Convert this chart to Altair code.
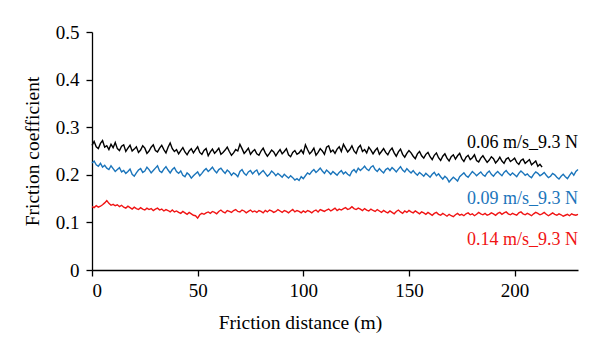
import altair as alt
import pandas as pd

# Friction distance (m) — one reading per metre
black_vals = [
0.262,0.270,0.259,0.255,0.266,0.272,0.258,0.261,0.253,0.264,0.257,0.268,0.255,0.251,0.260,0.263,0.249,0.256,0.262,0.250,
0.254,0.259,0.247,0.252,0.261,0.256,0.245,0.250,0.258,0.263,0.251,0.248,0.256,0.262,0.253,0.246,0.258,0.267,0.255,0.249,
0.253,0.244,0.251,0.257,0.248,0.242,0.250,0.255,0.246,0.253,0.259,0.247,0.243,0.251,0.255,0.240,0.248,0.254,0.245,0.250,
0.256,0.243,0.247,0.252,0.258,0.249,0.241,0.246,0.253,0.250,0.264,0.255,0.245,0.250,0.256,0.243,0.249,0.253,0.244,0.241,
0.250,0.256,0.246,0.239,0.245,0.252,0.248,0.240,0.247,0.253,0.244,0.249,0.255,0.242,0.238,0.247,0.251,0.243,0.246,0.252,
0.245,0.263,0.253,0.244,0.249,0.256,0.241,0.247,0.255,0.250,0.243,0.258,0.261,0.248,0.252,0.245,0.254,0.259,0.249,0.264,
0.256,0.248,0.253,0.261,0.250,0.245,0.257,0.262,0.249,0.253,0.246,0.258,0.252,0.244,0.251,0.256,0.243,0.249,0.255,0.247,
0.242,0.251,0.256,0.246,0.239,0.248,0.254,0.243,0.237,0.245,0.251,0.246,0.239,0.234,0.244,0.249,0.240,0.235,0.243,0.247,
0.238,0.232,0.241,0.246,0.236,0.230,0.239,0.244,0.235,0.229,0.238,0.242,0.233,0.240,0.245,0.234,0.228,0.237,0.241,0.232,
0.236,0.242,0.230,0.227,0.235,0.240,0.233,0.226,0.231,0.238,0.234,0.225,0.230,0.237,0.229,0.224,0.233,0.236,0.228,0.231,
0.235,0.226,0.222,0.230,0.233,0.224,0.228,0.232,0.221,0.225,0.229,0.218,0.222,0.216,
]

blue_vals = [
0.225,0.229,0.221,0.218,0.224,0.216,0.220,0.214,0.211,0.219,0.213,0.207,0.211,0.215,0.206,0.209,0.203,0.207,0.212,0.201,
0.197,0.204,0.210,0.213,0.205,0.208,0.216,0.211,0.204,0.209,0.214,0.219,0.208,0.205,0.212,0.217,0.210,0.204,0.211,0.215,
0.207,0.203,0.208,0.199,0.196,0.204,0.200,0.193,0.198,0.202,0.206,0.198,0.203,0.209,0.213,0.207,0.211,0.216,0.209,0.204,
0.211,0.214,0.208,0.203,0.210,0.206,0.199,0.204,0.201,0.196,0.207,0.211,0.203,0.199,0.206,0.209,0.202,0.207,0.210,0.200,
0.205,0.209,0.203,0.197,0.201,0.208,0.204,0.198,0.203,0.199,0.195,0.201,0.197,0.193,0.198,0.194,0.189,0.192,0.188,0.196,
0.192,0.198,0.204,0.201,0.207,0.211,0.205,0.209,0.214,0.208,0.203,0.210,0.206,0.201,0.207,0.203,0.199,0.205,0.209,0.202,
0.206,0.201,0.198,0.207,0.211,0.205,0.214,0.209,0.213,0.218,0.212,0.209,0.216,0.219,0.211,0.207,0.213,0.208,0.204,0.211,
0.214,0.209,0.215,0.211,0.206,0.212,0.217,0.210,0.206,0.213,0.208,0.204,0.209,0.203,0.199,0.205,0.201,0.197,0.203,0.199,
0.195,0.201,0.205,0.198,0.202,0.196,0.191,0.197,0.193,0.185,0.190,0.195,0.191,0.187,0.196,0.200,0.204,0.198,0.195,0.201,
0.207,0.203,0.198,0.202,0.206,0.200,0.197,0.204,0.208,0.201,0.197,0.203,0.207,0.202,0.198,0.205,0.209,0.203,0.199,0.204,
0.200,0.196,0.203,0.208,0.204,0.199,0.202,0.197,0.194,0.201,0.206,0.203,0.198,0.201,0.205,0.199,0.194,0.197,0.203,0.200,
0.195,0.191,0.197,0.201,0.196,0.192,0.199,0.205,0.199,0.207,0.211,
]

red_vals = [
0.133,0.131,0.135,0.132,0.134,0.137,0.141,0.146,0.140,0.136,0.138,0.135,0.137,0.133,0.136,0.132,0.130,0.134,0.131,0.128,
0.132,0.129,0.127,0.131,0.128,0.126,0.130,0.127,0.129,0.125,0.128,0.130,0.126,0.128,0.124,0.127,0.125,0.122,0.126,0.122,
0.124,0.121,0.119,0.123,0.120,0.117,0.121,0.118,0.115,0.114,0.109,0.116,0.119,0.117,0.120,0.122,0.119,0.123,0.121,0.118,
0.123,0.126,0.122,0.120,0.125,0.123,0.121,0.125,0.127,0.123,0.122,0.126,0.124,0.120,0.123,0.126,0.122,0.124,0.121,0.125,
0.123,0.120,0.125,0.122,0.126,0.124,0.121,0.123,0.127,0.124,0.121,0.125,0.123,0.120,0.124,0.127,0.122,0.125,0.123,0.120,
0.124,0.121,0.125,0.123,0.120,0.124,0.126,0.122,0.127,0.125,0.123,0.126,0.128,0.124,0.127,0.130,0.125,0.128,0.126,0.129,
0.131,0.127,0.129,0.133,0.129,0.127,0.130,0.128,0.125,0.129,0.126,0.124,0.128,0.125,0.123,0.127,0.124,0.121,0.125,0.122,
0.120,0.124,0.121,0.118,0.123,0.126,0.122,0.119,0.124,0.121,0.125,0.122,0.120,0.124,0.121,0.118,0.122,0.120,0.117,0.121,
0.118,0.115,0.119,0.121,0.117,0.115,0.119,0.116,0.113,0.117,0.114,0.112,0.116,0.119,0.115,0.117,0.114,0.118,0.120,0.116,
0.118,0.114,0.117,0.121,0.118,0.116,0.119,0.115,0.117,0.120,0.118,0.115,0.119,0.121,0.117,0.120,0.122,0.118,0.116,0.119,
0.117,0.115,0.120,0.122,0.118,0.116,0.119,0.117,0.114,0.118,0.121,0.119,0.116,0.118,0.121,0.117,0.114,0.117,0.120,0.117,
0.115,0.118,0.116,0.113,0.115,0.117,0.114,0.118,0.116,0.115,0.117,
]

series_names = ["0.06 m/s_9.3 N", "0.09 m/s_9.3 N", "0.14 m/s_9.3 N"]
series_colors = ["#000000", "#1b75bb", "#f01414"]
label_y = [0.267, 0.150, 0.064]
label_x = [230, 230, 230]
x_ticks = [0, 50, 100, 150, 200]
y_ticks = [0, 0.1, 0.2, 0.3, 0.4, 0.5]

rows = []
for name, vals in zip(series_names, [black_vals, blue_vals, red_vals]):
    for i, v in enumerate(vals):
        rows.append({"series": name, "distance": i, "friction": v})
df = pd.DataFrame(rows)

lab_df = pd.DataFrame({"series": series_names, "x": label_x, "y": label_y})

FONT = "Liberation Serif"
color_scale = alt.Scale(domain=series_names, range=series_colors)

x_scale = alt.Scale(domain=[0, 230], nice=False, zero=False)
y_scale = alt.Scale(domain=[0, 0.5], nice=False)

lines = alt.Chart(df).mark_line(strokeWidth=1.4).encode(
    x=alt.X("distance:Q", scale=x_scale,
            axis=alt.Axis(title="Friction distance (m)", values=x_ticks, grid=False,
                          tickSize=6, labelPadding=5, domainColor="black", tickColor="black",
                          domainWidth=1.3, tickWidth=1.3,
                          labelFont=FONT, labelFontSize=19, labelColor="black",
                          titleFont=FONT, titleFontSize=19.5, titleFontWeight="normal",
                          titleColor="black", titleX=208, titleY=52,
                          titleAlign="center", titleBaseline="middle")),
    y=alt.Y("friction:Q", scale=y_scale,
            axis=alt.Axis(title="Friction coefficient", values=y_ticks, grid=False,
                          tickSize=6, labelPadding=7, domainColor="black", tickColor="black",
                          domainWidth=1.3, tickWidth=1.3,
                          labelExpr="datum.value == 0 ? '0' : format(datum.value, '.1f')",
                          labelFont=FONT, labelFontSize=19, labelColor="black",
                          titleFont=FONT, titleFontSize=19.5, titleFontWeight="normal",
                          titleColor="black", titleX=-60, titleY=119,
                          titleAlign="center", titleBaseline="middle")),
    color=alt.Color("series:N", scale=color_scale, legend=None),
    detail="series:N",
)

labels = alt.Chart(lab_df).mark_text(align="right", baseline="middle", font=FONT, fontSize=18).encode(
    x=alt.X("x:Q", scale=x_scale),
    y=alt.Y("y:Q", scale=y_scale),
    text="series:N",
    color=alt.Color("series:N", scale=color_scale, legend=None),
)

chart = alt.layer(lines, labels).properties(
    width=486, height=238,
    autosize=alt.AutoSizeParams(type="none"),
    padding={"left": 92, "top": 32, "right": 22, "bottom": 85},
    background="white",
).configure_view(stroke=None)

chart.save("out.html", embed_options={"renderer": "svg", "actions": False})
